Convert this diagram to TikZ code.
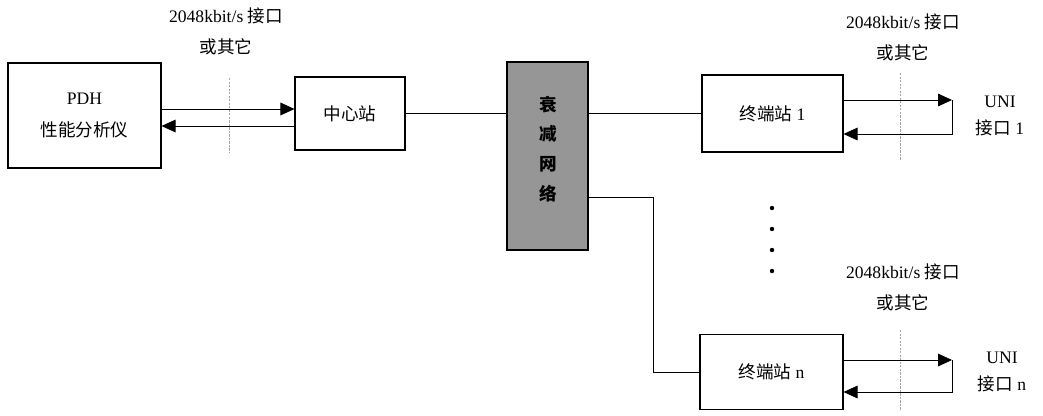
\documentclass[tikz,border=0pt]{standalone}
\usepackage{fontspec}
\setmainfont{Liberation Serif}
\newfontfamily\cjk{Noto Sans CJK SC}
\usetikzlibrary{positioning,arrows.meta,calc}
\definecolor{netgray}{RGB}{150,150,150}
\definecolor{cutgray}{RGB}{165,165,165}

\begin{document}
\begin{tikzpicture}[x=0.03cm, y=-0.03cm, font=\fontsize{15}{18}\selectfont,
  box/.style={draw, line width=0.9pt, inner sep=0pt, align=center},
  link/.style={line width=0.7pt},
  arr/.style={line width=0.7pt, -{Triangle[length=4.2mm, width=3.8mm]}},
  cut/.style={cutgray, line width=0.7pt, dash pattern=on 2pt off 1pt}]
\useasboundingbox (0,0) rectangle (1043,415);

% boxes
\node[box, minimum width=4.59cm, minimum height=3.15cm] (pdh) at (84.5,115.5) {PDH\\[10pt]{\cjk 性能分析仪}};
\node[box, minimum width=3.3cm, minimum height=2.19cm] (cs) at (350,113.5) {\cjk 中心站};
\node[box, fill=netgray, minimum width=2.43cm, minimum height=5.64cm] (net) at (547.5,156) {};
\node[align=center, font=\cjk\bfseries\fontsize{15}{25.5}\selectfont] (netlbl) at (548,149) {衰\\减\\网\\络};
\node[box, minimum width=4.23cm, minimum height=2.31cm] (t1) at (772.5,113.5) {{\cjk 终端站} 1};
\node[box, minimum width=4.29cm, minimum height=2.25cm] (tn) at (771.5,372) {{\cjk 终端站} n};

% interface labels
\node (ifa) at (226,16) {2048kbit/s {\cjk 接口}};
\node[below=5pt of ifa] (ifab) {\cjk 或其它};
\node (ifb) at (903,22) {2048kbit/s {\cjk 接口}};
\node[below=5pt of ifb] (ifbb) {\cjk 或其它};
\node (ifc) at (903,272) {2048kbit/s {\cjk 接口}};
\node[below=5pt of ifc] (ifcb) {\cjk 或其它};
\node[align=center] (uni1) at (1000,116) {UNI\\[5pt]{\cjk 接口} 1};
\node[align=center] (unin) at (1002,372) {UNI\\[5pt]{\cjk 接口} n};

% interface cuts
\draw[cut] (229,78) -- (229,152);
\draw[cut] (900,73) -- (900,160);
\draw[cut] (900,330) -- (900,410);

% PDH <-> centre
\draw[arr] (pdh.east |- 0,109) -- (cs.west |- 0,109);
\draw[arr] (cs.west |- 0,126) -- (pdh.east |- 0,126);
\draw[link] (cs.east) -- (net.west |- cs.east);

% net -> terminals
\coordinate (bend) at (653,197);
\draw[link] (net.east |- t1.west) -- (t1.west);
\draw[link] (net.east |- bend) -- (bend) |- (tn.west);

% UNI loops
\coordinate (u1) at (952,100);
\coordinate (un) at (952,360);
\draw[arr] (t1.east |- u1) -- (u1);
\draw[arr] (u1) -- (u1 |- 0,134) -- (t1.east |- 0,134);
\draw[arr] (tn.east |- un) -- (un);
\draw[arr] (un) -- (un |- 0,392) -- (tn.east |- 0,392);

% dots
\foreach \y in {208,229,250,271}
  \fill (772,\y) circle (2.2);
\end{tikzpicture}
\end{document}
